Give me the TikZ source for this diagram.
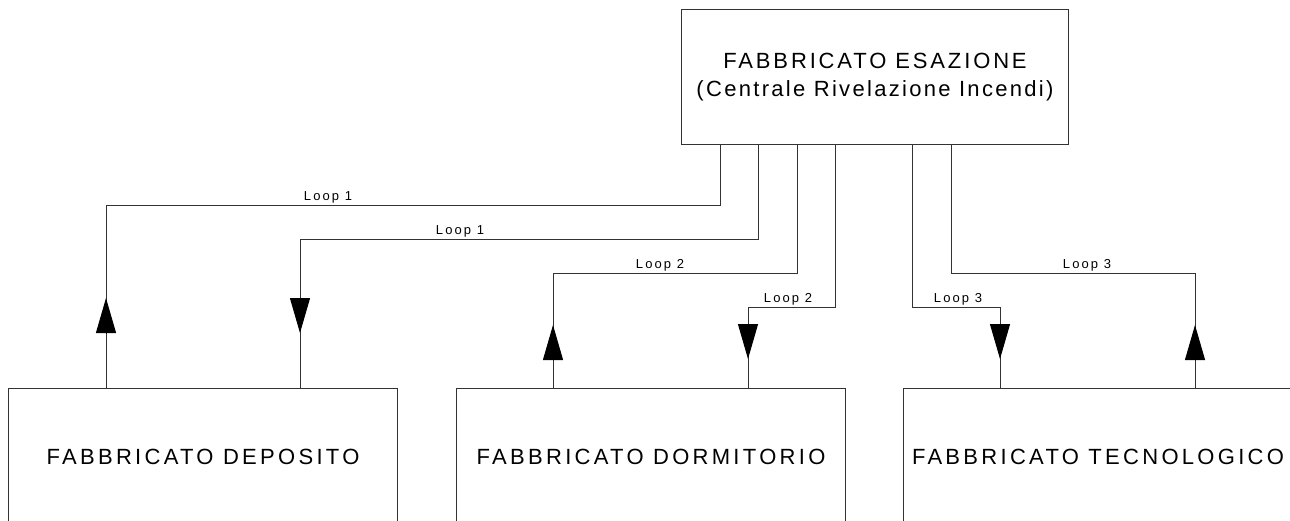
\documentclass[tikz,border=0pt]{standalone}
\usepackage{fontspec}
\setmainfont{Liberation Sans}[LetterSpace=10.5]
\newfontfamily\capfont{Liberation Sans}[LetterSpace=15]
\newfontfamily\topfont{Liberation Sans}[LetterSpace=13]
\newfontfamily\lblfont{Liberation Sans}[LetterSpace=16]
\usetikzlibrary{arrows.meta}
\begin{document}
\begin{tikzpicture}[x=1pt,y=-1pt,
  box/.style={draw=black!80, line width=1pt, inner sep=0pt, anchor=north west,
    font=\capfont\fontsize{22}{28}\selectfont, align=center},
  wire/.style={draw=black!80, line width=1pt},
  tiparrow/.style={wire, -{Triangle[length=35pt,width=20pt]}, black},
  lbl/.style={anchor=base, inner sep=0pt, font=\lblfont\fontsize{13}{15}\selectfont}]
\useasboundingbox (0,0) rectangle (1290,520);
% boxes
\node[box, minimum width=387pt, minimum height=135pt] (ex) at (681,9)
  {{\topfont FABBRICATO ESAZIONE}\\{\rmfamily(Centrale Rivelazione Incendi)}};
\node[box, minimum width=389pt, minimum height=136pt] (dep) at (8,388) {FABBRICATO DEPOSITO};
\node[box, minimum width=389pt, minimum height=136pt] (dor) at (456,388) {FABBRICATO DORMITORIO};
\node[box, minimum width=389pt, minimum height=136pt] (tec) at (903,388) {FABBRICATO TECNOLOGICO};
% bends
\coordinate (c1) at (106,205);
\coordinate (c2) at (300,239);
\coordinate (c3) at (553,273);
\coordinate (c4) at (748,307);
\coordinate (c5) at (1000,307);
\coordinate (c6) at (1195,273);
% arrow positions
\coordinate (t1) at (106,298); \coordinate (b1) at (106,333);
\coordinate (t2) at (300,298); \coordinate (b2) at (300,333);
\coordinate (t3) at (553,325); \coordinate (b3) at (553,359);
\coordinate (t4) at (748,325); \coordinate (b4) at (748,359);
\coordinate (t5) at (1000,325); \coordinate (b5) at (1000,359);
\coordinate (t6) at (1195,325); \coordinate (b6) at (1195,359);
% connectors
\draw[wire] (720,0 |- ex.south) |- (c1) -- (106,0 |- dep.north);
\draw[wire] (758,0 |- ex.south) |- (c2) -- (300,0 |- dep.north);
\draw[wire] (797,0 |- ex.south) |- (c3) -- (553,0 |- dor.north);
\draw[wire] (835,0 |- ex.south) |- (c4) -- (748,0 |- dor.north);
\draw[wire] (912,0 |- ex.south) |- (c5) -- (1000,0 |- tec.north);
\draw[wire] (951,0 |- ex.south) |- (c6) -- (1195,0 |- tec.north);
% arrowheads
\draw[tiparrow] (b1) -- (t1);
\draw[tiparrow] (t2) -- (b2);
\draw[tiparrow] (b3) -- (t3);
\draw[tiparrow] (t4) -- (b4);
\draw[tiparrow] (t5) -- (b5);
\draw[tiparrow] (b6) -- (t6);
% labels
\node[lbl] (l1a) at (328,200) {Loop 1};
\node[lbl] (l1b) at (460,234) {Loop 1};
\node[lbl] (l2a) at (660,268) {Loop 2};
\node[lbl] (l2b) at (788,302) {Loop 2};
\node[lbl] (l3a) at (958,302) {Loop 3};
\node[lbl] (l3b) at (1087,268) {Loop 3};
\end{tikzpicture}
\end{document}
